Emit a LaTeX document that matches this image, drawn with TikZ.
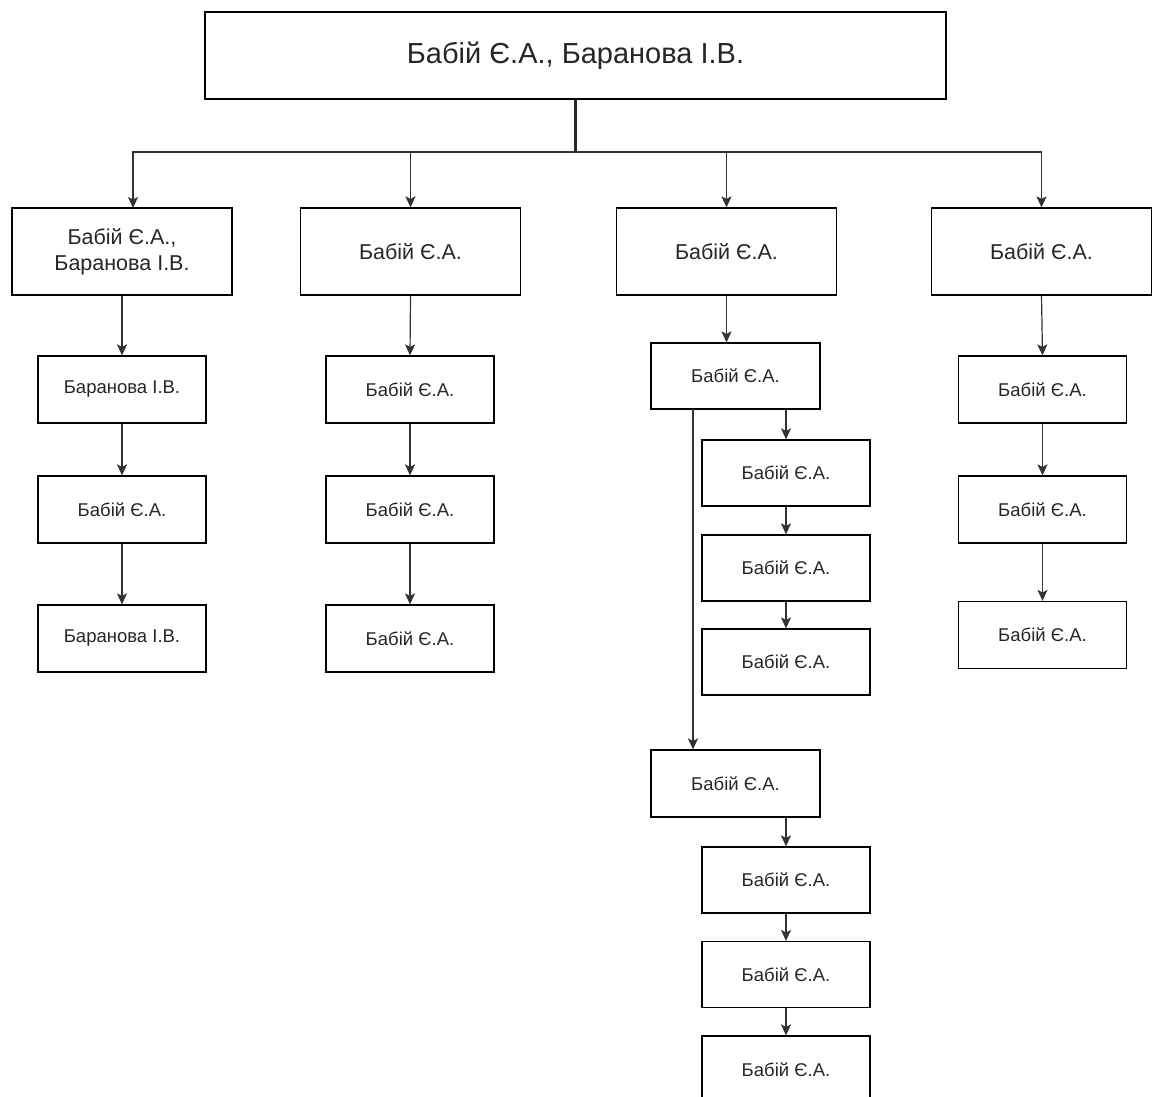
\documentclass[tikz,border=0pt]{standalone}
\usepackage{fontspec}
\setmainfont{Liberation Sans}
\usetikzlibrary{arrows.meta}
\begin{document}
\begin{tikzpicture}[x=1pt,y=-1pt,
  box/.style={draw=black,line width=1.2pt,fill=white,inner sep=0pt,align=center,text=black!85},
  bigbox/.style={box,minimum width=741pt,minimum height=87pt,font=\fontsize{29}{34}\selectfont},
  midbox/.style={box,minimum width=220pt,minimum height=87pt,font=\fontsize{21.5}{26}\selectfont},
  smallbox/.style={box,minimum width=168pt,minimum height=67pt,font=\fontsize{18.5}{22}\selectfont},
  conn/.style={draw=black!80,line width=1.2pt,-{Stealth[length=11pt,width=10pt,inset=2.5pt]}}]
\useasboundingbox (0,0) rectangle (1152,1097);
\clip (0,0) rectangle (1152,1097);
% top
\node[bigbox] (top) at (575.5,55.5) {Бабій Є.А., Баранова І.В.};
% level 1
\node[midbox] (a1) at (122,251.5) {Бабій Є.А.,\\Баранова І.В.};
\node[midbox] (b1) at (410.5,251.5) {Бабій Є.А.};
\node[midbox] (c1) at (726.5,251.5) {Бабій Є.А.};
\node[midbox] (d1) at (1041.5,251.5) {Бабій Є.А.};
% column A
\node[smallbox] (a2) at (122,389.5) {Баранова І.В.};
\node[smallbox] (a3) at (122,509.5) {Бабій Є.А.};
\node[smallbox] (a4) at (122,638.5) {Баранова І.В.};
% column B
\node[smallbox] (b2) at (410,389.5) {Бабій Є.А.};
\node[smallbox] (b3) at (410,509.5) {Бабій Є.А.};
\node[smallbox] (b4) at (410,638.5) {Бабій Є.А.};
% column D
\node[smallbox] (d2) at (1042.5,389.5) {Бабій Є.А.};
\node[smallbox] (d3) at (1042.5,509.5) {Бабій Є.А.};
\node[smallbox] (d4) at (1042.5,635) {Бабій Є.А.};
% column C
\node[smallbox,minimum width=169pt,minimum height=66pt] (c2) at (735.5,376) {Бабій Є.А.};
\node[smallbox,minimum height=66pt] (c3) at (786,473) {Бабій Є.А.};
\node[smallbox,minimum height=66pt] (c4) at (786,568) {Бабій Є.А.};
\node[smallbox,minimum height=66pt] (c5) at (786,662) {Бабій Є.А.};
\node[smallbox,minimum width=169pt] (c6) at (735.5,783.5) {Бабій Є.А.};
\node[smallbox,minimum height=66pt] (c7) at (786,880) {Бабій Є.А.};
\node[smallbox,minimum height=66pt] (c8) at (786,974.5) {Бабій Є.А.};
\node[smallbox] (c9) at (786,1069.5) {Бабій Є.А.};
% top to level 1
\coordinate (bar) at (575.5,152);
\coordinate (a1in) at (133,208);
\draw[conn] (top.south) -- (bar) -| (a1in);
\draw[conn] (top.south) -- (bar) -| (b1.north);
\draw[conn] (top.south) -- (bar) -| (c1.north);
\draw[conn] (top.south) -- (bar) -| (d1.north);
\draw[black!85,line width=2.4pt] (top.south) -- (bar);
% column A, B, D chains
\draw[conn] (a1.south) -- (a2.north);
\draw[conn] (a2.south) -- (a3.north);
\draw[conn] (a3.south) -- (a4.north);
\draw[conn] (b1.south) -- (b2.north);
\draw[conn] (b2.south) -- (b3.north);
\draw[conn] (b3.south) -- (b4.north);
\draw[conn] (d1.south) -- (d2.north);
\draw[conn] (d2.south) -- (d3.north);
\draw[conn] (d3.south) -- (d4.north);
% column C
\draw[conn] (c1.south) -- (c1.south |- c2.north);
\draw[conn] (c3.north |- c2.south) -- (c3.north);
\draw[conn] (c3.south) -- (c4.north);
\draw[conn] (c4.south) -- (c5.north);
\coordinate (cl) at (693,409);
\draw[conn] (cl) -- (cl |- c6.north);
\draw[conn] (c7.north |- c6.south) -- (c7.north);
\draw[conn] (c7.south) -- (c8.north);
\draw[conn] (c8.south) -- (c9.north);
\end{tikzpicture}
\end{document}
